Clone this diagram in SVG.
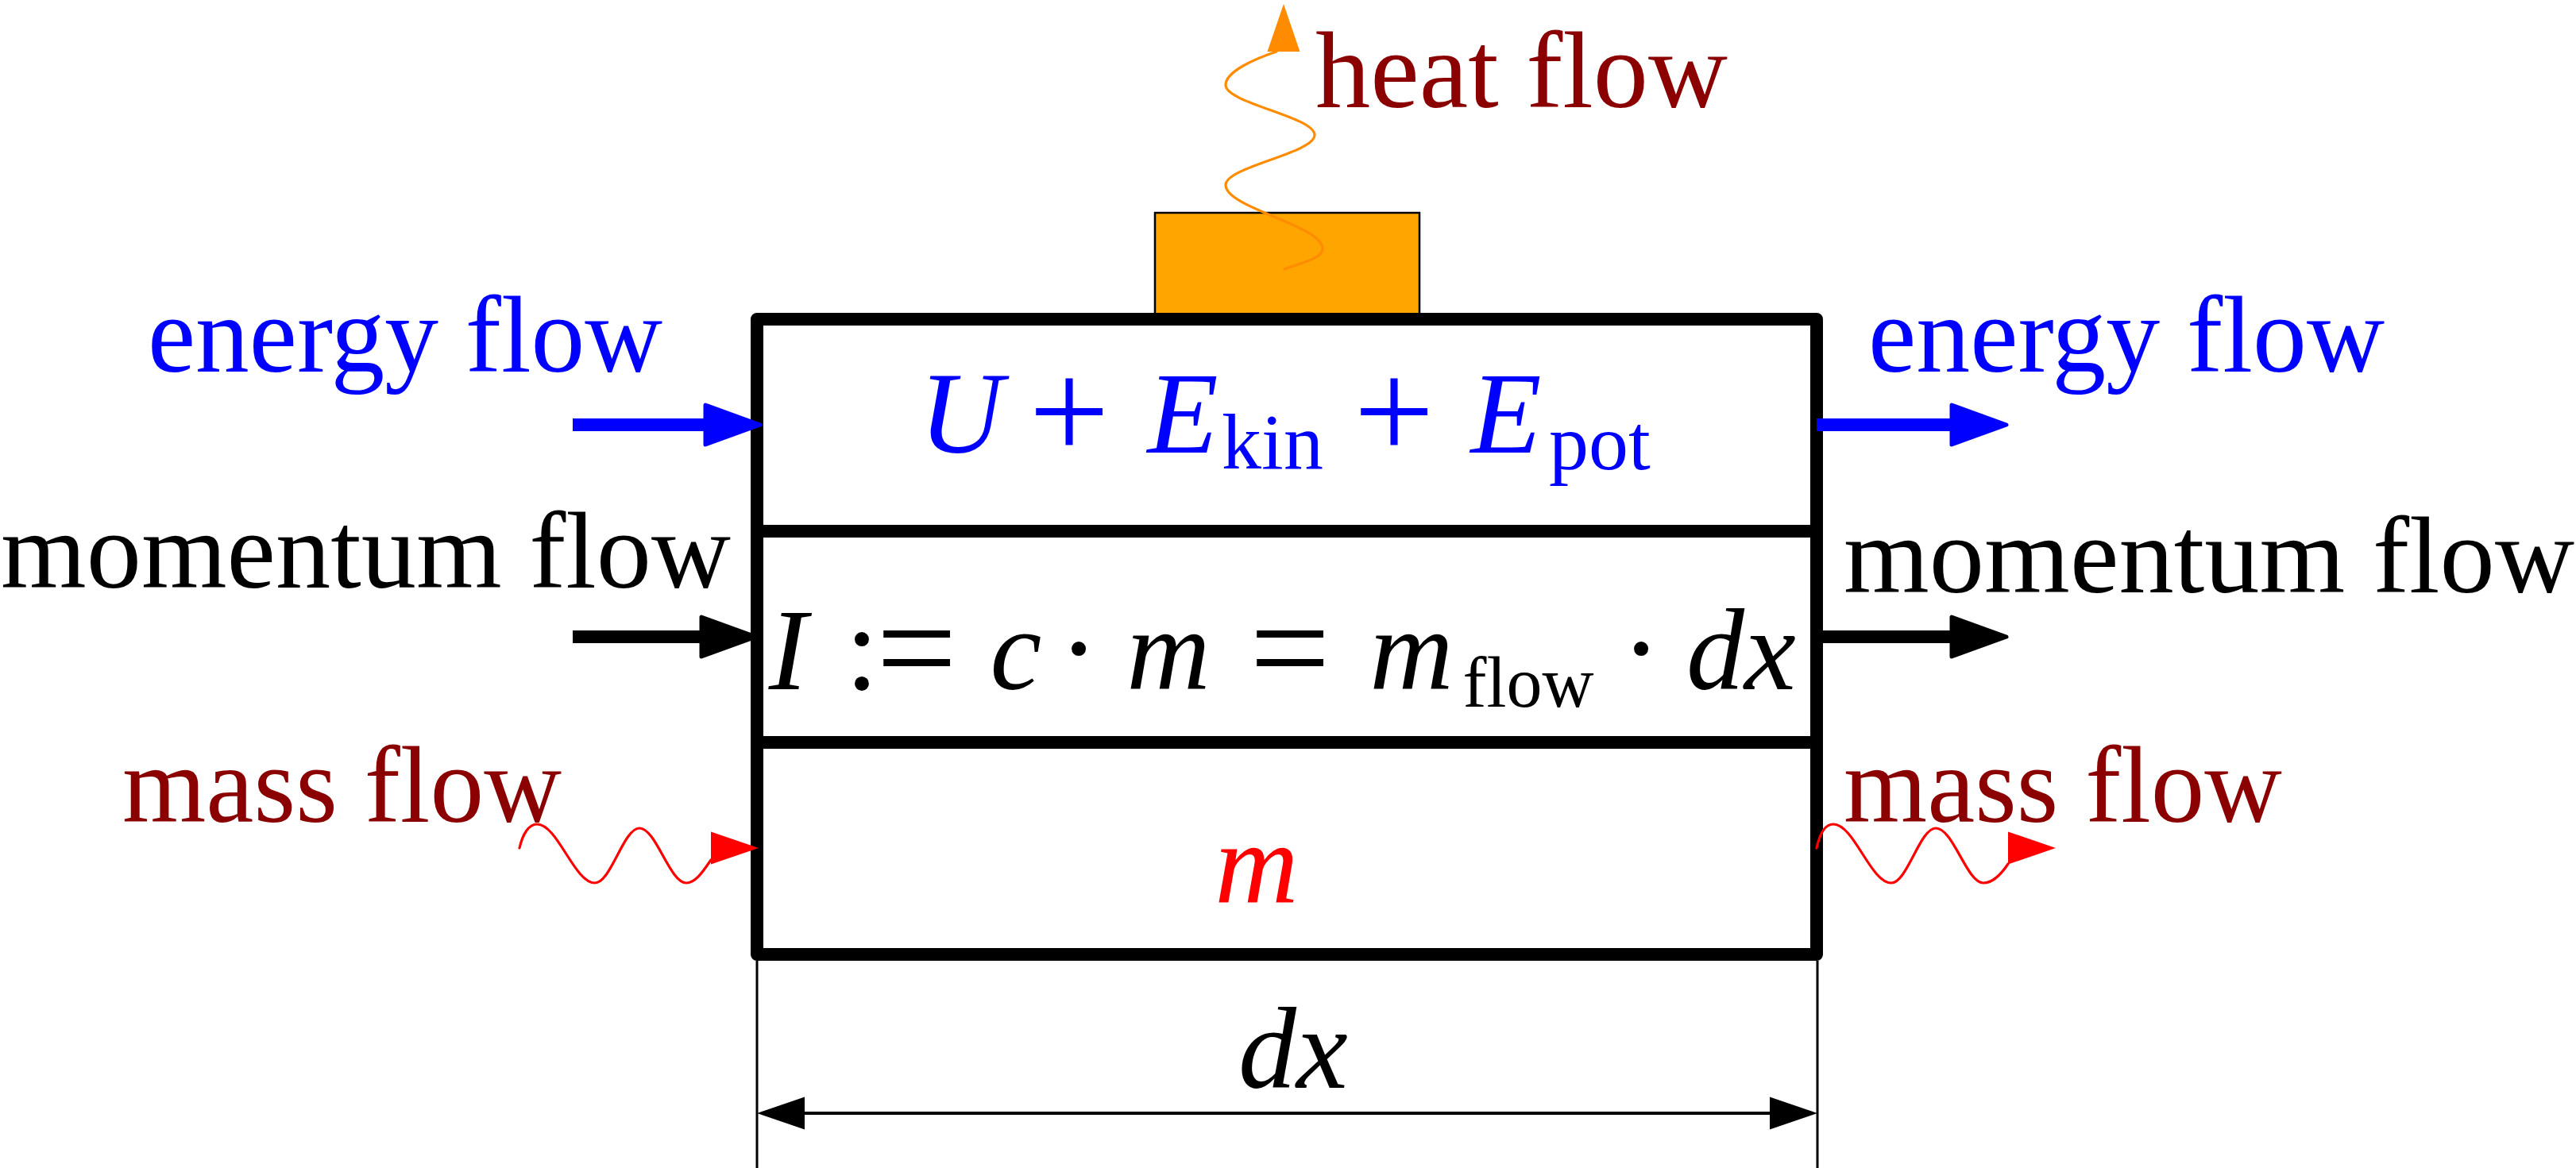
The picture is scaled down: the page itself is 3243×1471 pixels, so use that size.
<svg xmlns="http://www.w3.org/2000/svg" xmlns:xlink="http://www.w3.org/1999/xlink" width="3243" height="1471" viewBox="0 0 3243 1471">
<style>
.lbl{font-family:"Liberation Serif","DejaVu Serif",serif;font-size:138px}
.mi{font-family:"Liberation Serif","DejaVu Serif",serif;font-size:146px;font-style:italic;text-anchor:middle}
.mo{font-family:"Liberation Serif","DejaVu Serif",serif;font-size:152px;text-anchor:middle}
.op{font-family:"Liberation Serif","DejaVu Serif",serif;font-size:180px;text-anchor:middle}
.sub{font-family:"Liberation Serif","DejaVu Serif",serif;font-size:100px;text-anchor:middle}
.blue{fill:#0000FF}
.dred{fill:#8B0000}
.blk{fill:#000000}
.red{fill:#FF0000}
.wave{fill:none;stroke-width:3.2;stroke-linecap:round}
</style>
<defs>
<path id="thick" d="M-3,0 L-72,-25 L-72,25 Z" stroke-width="5" stroke-linejoin="round"/>
<path id="thin" d="M0,0 L-60,-20.5 L-60,20.5 Z"/>
</defs>

<g id="heat-source">
<rect x="1454" y="268" width="333" height="140" fill="#FFA500" stroke="#000" stroke-width="2.5"/>
</g>

<g id="control-volume">
<rect x="953" y="402" width="1334" height="800" fill="none" stroke="#000" stroke-width="16" stroke-linejoin="round"/>
<line x1="953" y1="669" x2="2287" y2="669" stroke="#000" stroke-width="16"/>
<line x1="953" y1="935" x2="2287" y2="935" stroke="#000" stroke-width="16"/>
</g>

<g id="connectors">
<!-- energy flow arrows -->
<line x1="721" y1="535" x2="890" y2="535" stroke="#0000FF" stroke-width="16"/>
<use xlink:href="#thick" transform="translate(960,535)" fill="#0000FF" stroke="#0000FF"/>
<line x1="2287" y1="535" x2="2460" y2="535" stroke="#0000FF" stroke-width="16"/>
<use xlink:href="#thick" transform="translate(2529,535)" fill="#0000FF" stroke="#0000FF"/>
<!-- momentum flow arrows -->
<line x1="721" y1="802" x2="890" y2="802" stroke="#000" stroke-width="16"/>
<use xlink:href="#thick" transform="translate(955,802)" fill="#000" stroke="#000"/>
<line x1="2287" y1="802" x2="2460" y2="802" stroke="#000" stroke-width="16"/>
<use xlink:href="#thick" transform="translate(2529,802)" fill="#000" stroke="#000"/>
<!-- mass flow waves -->
<path class="wave" stroke="#FF0000" d="M654,1068 C658,1050 666,1038 676,1038 C702,1038 723,1112 749,1112 C769,1112 785,1043 805,1043 C826,1043 843,1112 864,1112 C876,1112 886,1096 895,1083"/>
<use xlink:href="#thin" transform="translate(955,1068)" fill="#FF0000"/>
<path class="wave" stroke="#FF0000" d="M2287,1068 C2291,1050 2298,1038 2308,1038 C2334,1038 2355,1112 2381,1112 C2401,1112 2417,1043 2437,1043 C2459,1043 2476,1112 2497,1112 C2510,1112 2520,1100 2528,1088"/>
<use xlink:href="#thin" transform="translate(2588,1068)" fill="#FF0000"/>
<!-- heat flow wave -->
<path class="wave" stroke="#FF8C00" d="M1617,339 C1645,329 1665,325 1665,313 C1665,284 1543,262 1543,233 C1543,210 1655,193 1655,170 C1655,147 1543,130 1543,107 C1543,90 1580,74 1607,65"/>
<use xlink:href="#thin" transform="translate(1616,5) rotate(-90)" fill="#FF8C00"/>
<!-- dimension dx -->
<line x1="953" y1="1210" x2="953" y2="1471" stroke="#000" stroke-width="3"/>
<line x1="2288" y1="1210" x2="2288" y2="1471" stroke="#000" stroke-width="3"/>
<line x1="1000" y1="1402" x2="2240" y2="1402" stroke="#000" stroke-width="4"/>
<use xlink:href="#thin" transform="translate(953,1402) rotate(180)" fill="#000"/>
<use xlink:href="#thin" transform="translate(2288,1402)" fill="#000"/>
</g>

<g id="labels">
<text class="lbl blue" x="186" y="468" textLength="648" lengthAdjust="spacingAndGlyphs">energy flow</text>
<text class="lbl blue" x="2352" y="468" textLength="650" lengthAdjust="spacingAndGlyphs">energy flow</text>
<text class="lbl blk" x="1" y="740" textLength="919" lengthAdjust="spacingAndGlyphs">momentum flow</text>
<text class="lbl blk" x="2321" y="746" textLength="920" lengthAdjust="spacingAndGlyphs">momentum flow</text>
<text class="lbl dred" x="154" y="1035" textLength="553" lengthAdjust="spacingAndGlyphs">mass flow</text>
<text class="lbl dred" x="2321" y="1035" textLength="552" lengthAdjust="spacingAndGlyphs">mass flow</text>
<text class="lbl dred" x="1656" y="135" textLength="519" lengthAdjust="spacingAndGlyphs">heat flow</text>
</g>

<g id="energy-content">
<text class="mi blue" x="1210" y="570">U</text>
<text class="op blue" x="1346" y="578">+</text>
<text class="mi blue" x="1489" y="570">E</text>
<text class="sub blue" x="1602" y="590">kin</text>
<text class="op blue" x="1755" y="578">+</text>
<text class="mi blue" x="1896" y="570">E</text>
<text class="sub blue" x="2014" y="591">pot</text>
</g>

<g id="momentum-content">
<text class="mi blk" x="992" y="868">I</text>
<text class="mo blk" x="1085" y="868">:</text>
<text class="op blk" x="1154" y="876">=</text>
<text class="mi blk" x="1279" y="868">c</text>
<text class="mo blk" x="1358" y="868">·</text>
<text class="mi blk" x="1471" y="868">m</text>
<text class="op blk" x="1624" y="876">=</text>
<text class="mi blk" x="1777" y="868">m</text>
<text class="sub blk" x="1924" y="890" style="font-size:90px">flow</text>
<text class="mo blk" x="2066" y="868">·</text>
<text class="mi blk" x="2192" y="868">dx</text>
</g>

<g id="mass-content">
<text class="mi red" x="1582" y="1137">m</text>
</g>

<g id="dimension-label">
<text class="mi blk" x="1628" y="1370">dx</text>
</g>
</svg>
